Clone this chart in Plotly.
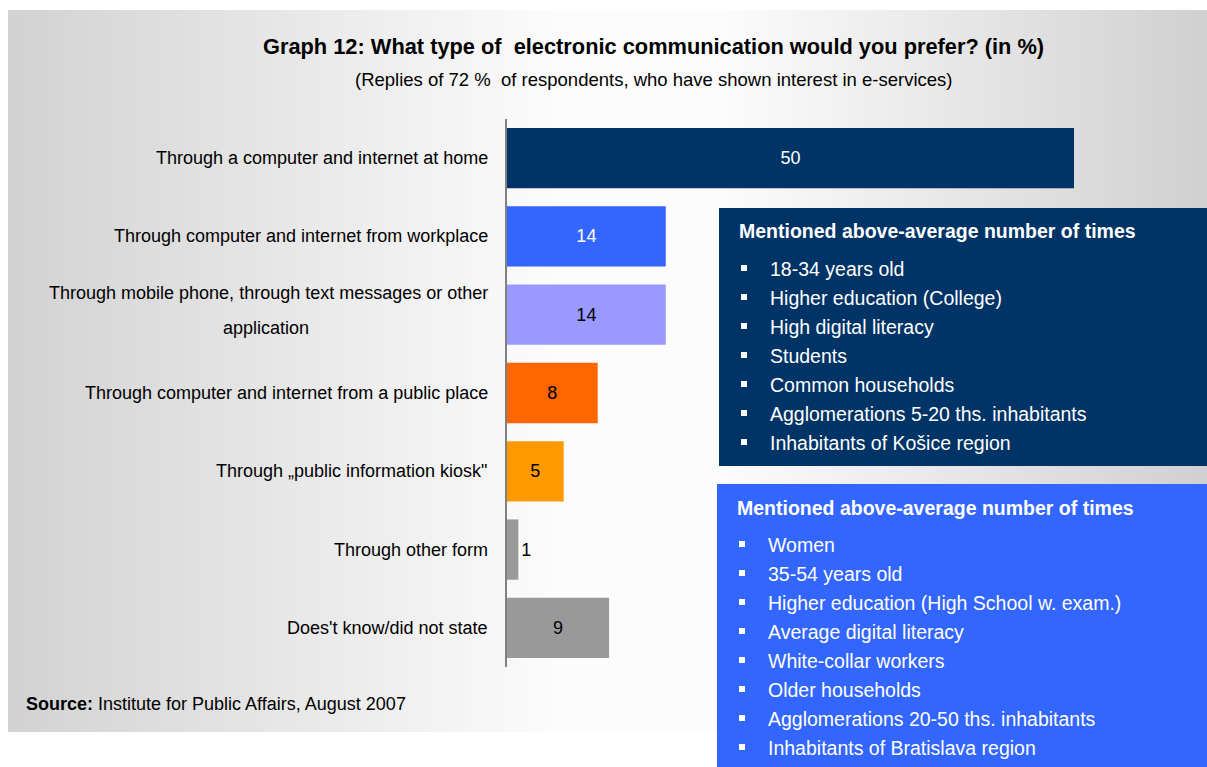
import plotly.graph_objects as go

# ---- data -------------------------------------------------------------
categories = [
    "Through a computer and internet at home",
    "Through computer and internet from workplace",
    "Through mobile phone, through text messages or other application",
    "Through computer and internet from a public place",
    "Through \u201epublic information kiosk\"",
    "Through other form",
    "Does't know/did not state",
]
values = [50, 14, 14, 8, 5, 1, 9]
bar_colors = ["#003366", "#3366FF", "#9999FF", "#FF6600", "#FF9900", "#999999", "#999999"]
label_colors = ["white", "white", "black", "black", "black", "black", "black"]
label_positions = ["inside", "inside", "inside", "inside", "inside", "outside", "inside"]

title_text = "Graph 12: What type of  electronic communication would you prefer? (in %)"
subtitle_text = "(Replies of 72 %  of respondents, who have shown interest in e-services)"
box_header = "Mentioned above-average number of times"
box1_items = [
    "18-34 years old",
    "Higher education (College)",
    "High digital literacy",
    "Students",
    "Common households",
    "Agglomerations 5-20 ths. inhabitants",
    "Inhabitants of Košice region",
]
box2_items = [
    "Women",
    "35-54 years old",
    "Higher education (High School w. exam.)",
    "Average digital literacy",
    "White-collar workers",
    "Older households",
    "Agglomerations 20-50 ths. inhabitants",
    "Inhabitants of Bratislava region",
]

# ---- page geometry ----------------------------------------------------
W, H = 1207, 767
ML, MR, MT, MB = 507, 0, 119, 100
PW, PH = W - ML - MR, H - MT - MB
PX_PER_UNIT = 11.34
FONT = "Liberation Sans, Arial, sans-serif"


def fx(x):
    """page pixel x -> paper x"""
    return (x - ML) / PW


def fy(y):
    """page pixel y -> paper y"""
    return (H - MB - y) / PH


fig = go.Figure()

fig.add_trace(go.Bar(
    x=values,
    y=categories,
    orientation="h",
    width=0.77,
    marker=dict(color=bar_colors, line=dict(width=0)),
    text=[str(v) for v in values],
    textposition=label_positions,
    insidetextanchor="middle",
    textangle=0,
    constraintext="none",
    textfont=dict(family=FONT, size=18, color=label_colors),
    outsidetextfont=dict(family=FONT, size=18, color=label_colors),
    cliponaxis=False,
    hoverinfo="skip",
))

shapes = []

# grey-white-grey background panel made of thin vertical strips
panel_x0, panel_x1, panel_y0, panel_y1 = 8, 1207, 10, 732
n_strips = 240
step = (panel_x1 - panel_x0) / n_strips
for i in range(n_strips):
    xa = panel_x0 + i * step
    xm = xa + step / 2
    if xm < 560:
        v = 210 + 42 * (xm - panel_x0) / (560 - panel_x0)
    elif xm < 720:
        v = 252
    else:
        v = 252 - 44 * (xm - 720) / (panel_x1 - 720)
    g = int(round(v))
    shapes.append(dict(
        type="rect", xref="paper", yref="paper", layer="below",
        x0=fx(xa), x1=fx(xa + step + 0.6), y0=fy(panel_y1), y1=fy(panel_y0),
        fillcolor=f"rgb({g},{g},{g})", line=dict(width=0),
    ))

# the two highlight boxes
shapes.append(dict(type="rect", xref="paper", yref="paper", layer="above",
                   x0=fx(719), x1=fx(1207), y0=fy(466), y1=fy(208),
                   fillcolor="#003366", line=dict(width=0)))
shapes.append(dict(type="rect", xref="paper", yref="paper", layer="above",
                   x0=fx(717), x1=fx(1207), y0=fy(767), y1=fy(484),
                   fillcolor="#3366FF", line=dict(width=0)))

annotations = []


def add_box(items, header_x, header_y, bullet_x, text_x, first_y, spacing):
    annotations.append(dict(
        text=f"<b>{box_header}</b>", xref="paper", yref="paper",
        x=fx(header_x), y=fy(header_y), xanchor="left", yanchor="middle",
        showarrow=False, font=dict(family=FONT, size=19.5, color="white"),
    ))
    for k, item in enumerate(items):
        yc = first_y + k * spacing
        annotations.append(dict(
            text=item, xref="paper", yref="paper",
            x=fx(text_x), y=fy(yc), xanchor="left", yanchor="middle",
            showarrow=False, font=dict(family=FONT, size=19.5, color="white"),
        ))
        shapes.append(dict(
            type="rect", xref="paper", yref="paper", layer="above",
            x0=fx(bullet_x), x1=fx(bullet_x + 6),
            y0=fy(yc + 2), y1=fy(yc - 4),
            fillcolor="white", line=dict(width=0),
        ))


add_box(box1_items, 737, 231, 741, 768, 269, 29)
add_box(box2_items, 735, 508, 739, 766, 545, 29)

# category labels to the left of the axis
for i, cat in enumerate(categories):
    if cat.startswith("Through mobile phone"):
        first, second = "Through mobile phone, through text messages or other", "application"
        annotations.append(dict(
            text=first, xref="paper", yref="y", x=0, y=cat, xanchor="right",
            yanchor="middle", xshift=-17, yshift=22, showarrow=False,
            font=dict(family=FONT, size=18, color="black"),
        ))
        annotations.append(dict(
            text=second, xref="paper", yref="y", x=fx(266), y=cat, xanchor="center",
            yanchor="middle", yshift=-13, showarrow=False,
            font=dict(family=FONT, size=18, color="black"),
        ))
    else:
        annotations.append(dict(
            text=cat, xref="paper", yref="y", x=0, y=cat, xanchor="right",
            yanchor="middle", xshift=-17, showarrow=False,
            font=dict(family=FONT, size=18, color="black"),
        ))

# title, subtitle and source line
annotations.append(dict(
    text=f"<b>{title_text}</b>", xref="paper", yref="paper",
    x=fx(653), y=fy(47), xanchor="center", yanchor="middle", showarrow=False,
    font=dict(family=FONT, size=21.8, color="black"),
))
annotations.append(dict(
    text=subtitle_text, xref="paper", yref="paper",
    x=fx(653), y=fy(80), xanchor="center", yanchor="middle", showarrow=False,
    font=dict(family=FONT, size=18.5, color="black"),
))
annotations.append(dict(
    text="<b>Source:</b> Institute for Public Affairs, August 2007",
    xref="paper", yref="paper",
    x=fx(24), y=fy(704), xanchor="left", yanchor="middle", showarrow=False,
    font=dict(family=FONT, size=18, color="black"),
))

fig.update_layout(
    width=W, height=H,
    margin=dict(l=ML, r=MR, t=MT, b=MB, pad=0),
    paper_bgcolor="white",
    plot_bgcolor="rgba(0,0,0,0)",
    showlegend=False,
    font=dict(family=FONT, size=18, color="black"),
    xaxis=dict(range=[0, PW / PX_PER_UNIT], showgrid=False, zeroline=False,
               showticklabels=False, showline=False, ticks=""),
    yaxis=dict(autorange="reversed", showgrid=False, zeroline=False,
               showticklabels=False, ticks="", showline=True,
               linecolor="#808080", linewidth=1.5),
    shapes=shapes,
    annotations=annotations,
    bargap=0.23,
)

fig.write_html("out.html")
